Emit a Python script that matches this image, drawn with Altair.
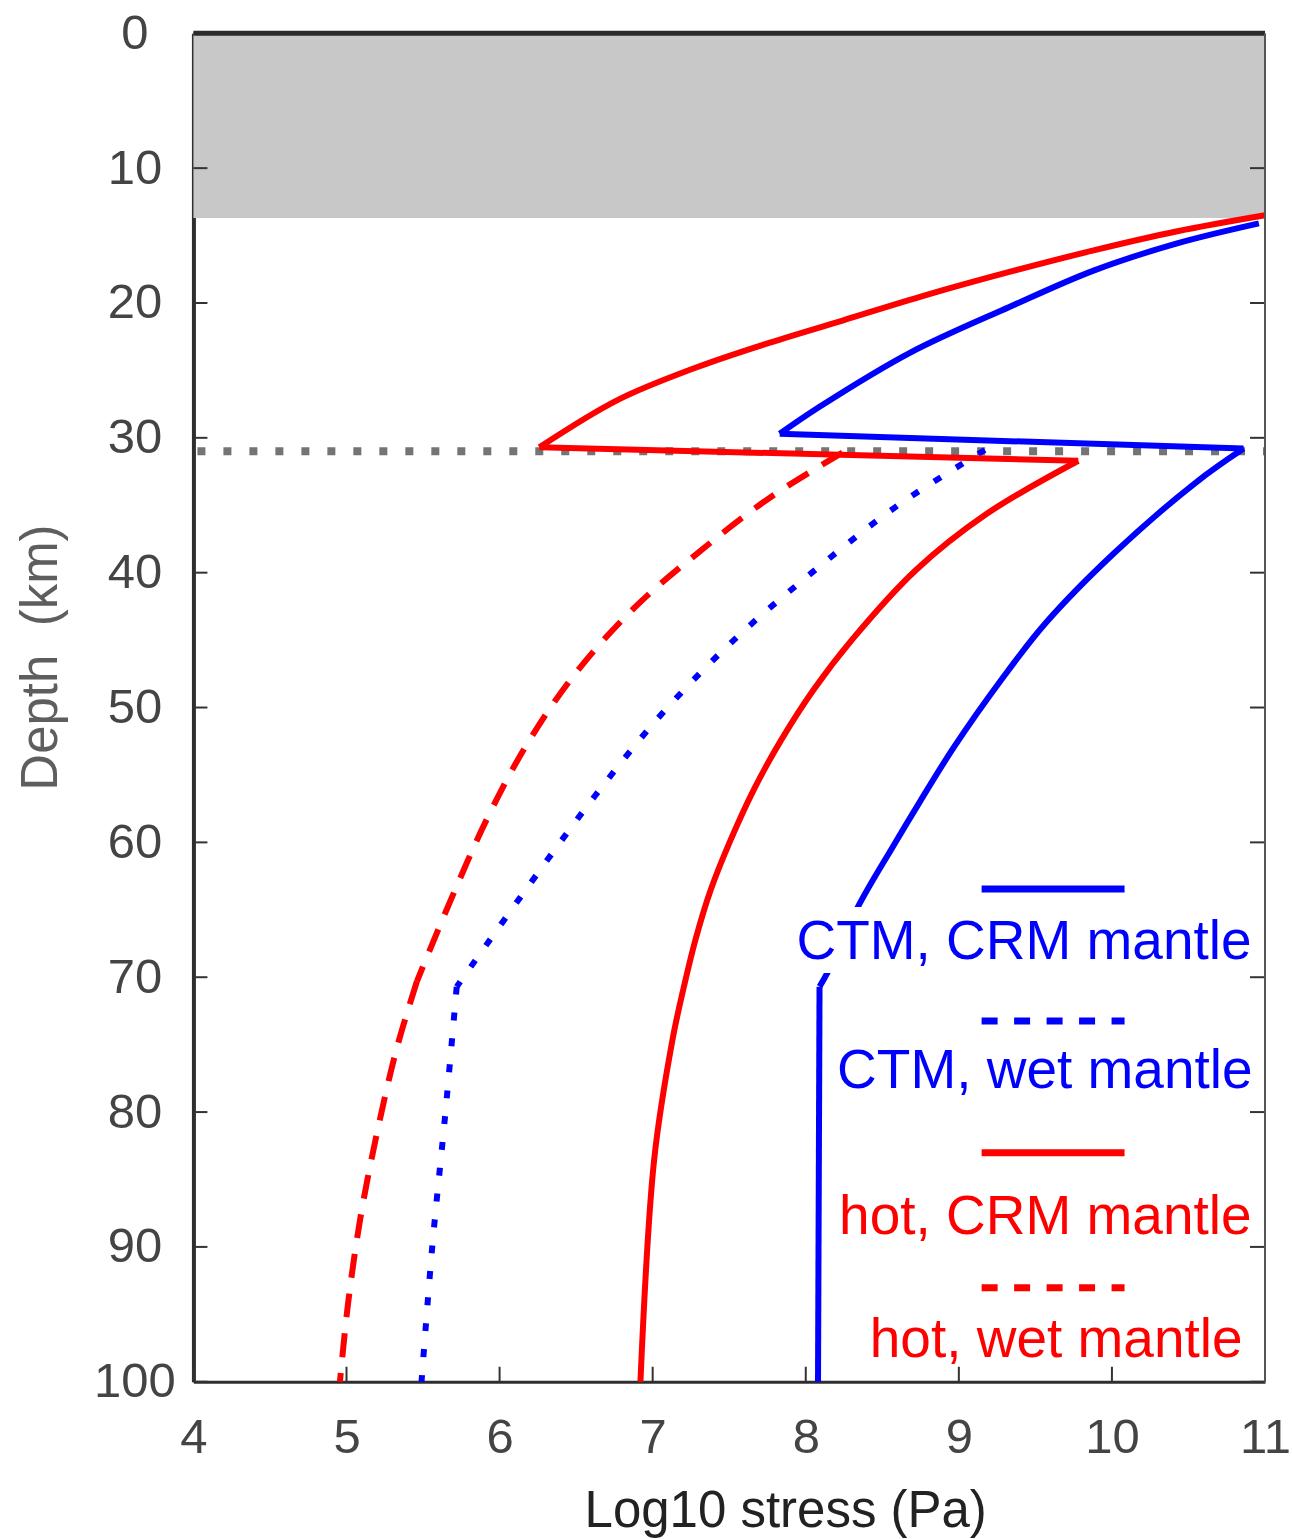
import altair as alt
import pandas as pd

# ---------------- data ----------------
x_ticks = [4, 5, 6, 7, 8, 9, 10, 11]
y_ticks = [0, 10, 20, 30, 40, 50, 60, 70, 80, 90, 100]

crust_top = [0]
crust_bottom = [13.7]
moho_depth = [31]

ctm_crm_stress = [10.96, 10.42, 9.88, 9.33, 8.68, 8.09, 7.83,
                  10.86, 10.55, 10.01, 9.57, 9.28, 8.97, 8.75, 8.57, 8.34,
                  8.14, 8.09, 8.08]
ctm_crm_depth = [14.1, 15.6, 17.6, 20.3, 23.7, 27.7, 29.7,
                 30.8, 33.3, 38.6, 43.7, 47.9, 52.9, 56.9, 60.3, 64.8,
                 69.7, 70.7, 100]
ctm_crm_breaks = [6, 7, 17]

ctm_wet_stress = [9.17, 8.59, 8.04, 7.53, 7.05, 6.62, 6.21, 5.72,
                  5.643, 5.56, 5.49]
ctm_wet_depth = [30.9, 35.1, 40.0, 45.0, 50.6, 56.6, 62.9, 70.7,
                 80.4, 90.0, 100]
ctm_wet_breaks = [7]

hot_crm_stress = [11.0, 10.42, 9.88, 9.33, 8.79, 8.24, 7.72, 7.28, 6.77, 6.26,
                  9.78, 9.18, 8.72, 8.30, 8.05, 7.84, 7.66, 7.51, 7.38, 7.28,
                  7.20, 7.13, 7.01, 6.92]
hot_crm_depth = [13.5, 14.7, 16.1, 17.7, 19.4, 21.3, 23.1, 24.8, 27.2, 30.7,
                 31.7, 35.65, 39.8, 45.0, 48.7, 52.4, 56.1, 59.8, 63.5, 67.2,
                 70.9, 74.6, 83.5, 100]
hot_crm_breaks = [9, 10]

hot_wet_stress = [8.24, 7.77, 7.31, 6.89, 6.50, 6.18, 5.92, 5.68, 5.46,
                  5.33, 5.20, 5.09, 5.01, 4.957]
hot_wet_depth = [31.1, 34.4, 38.4, 42.5, 47.4, 52.7, 58.2, 64.3, 70.3,
                 75.2, 81.5, 87.9, 94.2, 100]
hot_wet_breaks = [8]

legend_labels = ["CTM, CRM mantle", "CTM, wet mantle", "hot, CRM mantle", "hot, wet mantle"]

# ---------------- layout ----------------
W, H = 1072, 1349
BLUE, RED = "#0000ff", "#ff0000"
FONT = "Liberation Sans"

xs = alt.Scale(domain=[4, 11], nice=False, zero=False)
ys = alt.Scale(domain=[0, 100], nice=False, zero=False, reverse=True)

xax = alt.Axis(values=x_ticks, ticks=False, tickSize=0, grid=False,
               domain=True, domainWidth=3, domainColor="#2e2e2e",
               labelFontSize=49, labelColor="#444444", labelFont=FONT,
               labelPadding=32, labelFlush=False,
               title="Log10 stress (Pa)", titleFontSize=51, titleFont=FONT,
               titleFontWeight="normal", titleColor="#222222",
               titleX=592, titleY=145, titleAlign="center",
               titleBaseline="alphabetic", titleAnchor="start")
yax = alt.Axis(values=y_ticks, ticks=False, tickSize=0, grid=False,
               domain=True, domainWidth=4, domainColor="#2e2e2e",
               labelFontSize=49, labelColor="#444444", labelFont=FONT,
               labelAlign="center", labelBaseline="middle", labelPadding=59,
               labelFlush=False,
               title="Depth\u00a0\u00a0(km)", titleFontSize=51, titleFont=FONT,
               titleFontWeight="normal", titleColor="#5e5e5e",
               titleAngle=270, titleX=-137, titleY=624, titleAlign="center",
               titleBaseline="alphabetic", titleAnchor="start")

X = lambda: alt.X("stress:Q", scale=xs, axis=xax)
Y = lambda: alt.Y("depth:Q", scale=ys, axis=yax)


def series(s, d, breaks):
    # split the profile into smooth pieces at its kinks (pieces share end points)
    cuts = [0] + list(breaks) + [len(s) - 1]
    rows = []
    for k in range(len(cuts) - 1):
        for j in range(cuts[k], cuts[k + 1] + 1):
            rows.append({"stress": s[j], "depth": d[j], "i": j, "seg": k})
    return pd.DataFrame(rows)


one = pd.DataFrame({"k": [0]})

band = alt.Chart(pd.DataFrame({"depth": crust_top, "depth2": crust_bottom})).mark_rect(
    color="#c8c8c8").encode(y=Y(), y2="depth2:Q", x=alt.value(0), x2=alt.value(W))

moho = alt.Chart(pd.DataFrame({"depth": moho_depth})).mark_rule(
    color="#747474", strokeWidth=8, strokeDash=[8, 18]).encode(
    y=Y(), x=alt.value(4), x2=alt.value(W))


def line(s, d, breaks, color, dash=None):
    kw = dict(color=color, strokeWidth=6, strokeJoin="round", strokeCap="butt",
              interpolate="catmull-rom")
    if dash:
        kw["strokeDash"] = dash
    return alt.Chart(series(s, d, breaks)).mark_line(**kw).encode(
        x=X(), y=Y(), order="i:Q", detail="seg:N")


l_ctm_crm = line(ctm_crm_stress, ctm_crm_depth, ctm_crm_breaks, BLUE)
l_ctm_wet = line(ctm_wet_stress, ctm_wet_depth, ctm_wet_breaks, BLUE, [8, 18])
l_hot_crm = line(hot_crm_stress, hot_crm_depth, hot_crm_breaks, RED)
l_hot_wet = line(hot_wet_stress, hot_wet_depth, hot_wet_breaks, RED, [24, 16])

# frame and inward ticks
top_rule = alt.Chart(one).mark_rule(color="#2b2b2b", strokeWidth=5).encode(
    x=alt.value(0), x2=alt.value(W), y=alt.value(0))
right_rule = alt.Chart(one).mark_rule(color="#555555", strokeWidth=2).encode(
    x=alt.value(W), y=alt.value(0), y2=alt.value(H))
yt = pd.DataFrame({"depth": y_ticks})
xt = pd.DataFrame({"stress": x_ticks})
left_ticks = alt.Chart(yt).mark_rule(color="#333333", strokeWidth=2).encode(
    y=Y(), x=alt.value(0), x2=alt.value(14))
right_ticks = alt.Chart(yt).mark_rule(color="#333333", strokeWidth=2).encode(
    y=Y(), x=alt.value(W - 15), x2=alt.value(W))
bottom_ticks = alt.Chart(xt).mark_rule(color="#333333", strokeWidth=2).encode(
    x=X(), y=alt.value(H - 15), y2=alt.value(H))

# legend (drawn manually: sample line above right-aligned label)
legend_layers = []
legend_spec = [
    (legend_labels[0], BLUE, None, 856, 1058.5, 926, 598),
    (legend_labels[1], BLUE, [16, 16.5], 988, 1059.5, 1055, 638),
    (legend_labels[2], RED, None, 1120, 1058.5, 1201, 638),
    (legend_labels[3], RED, [16, 16.5], 1255, 1049.5, 1324, 668),
]
for label, col, dash, ly, tx, ty, tleft in legend_spec:
    bg = alt.Chart(one).mark_rect(color="white").encode(
        x=alt.value(tleft), x2=alt.value(tx + 6),
        y=alt.value(ty - 52), y2=alt.value(ty + 14))
    kw = dict(color=col, strokeWidth=7)
    if dash:
        kw["strokeDash"] = dash
    sample = alt.Chart(one).mark_rule(**kw).encode(
        x=alt.value(788.5), x2=alt.value(931.5), y=alt.value(ly))
    txt = alt.Chart(pd.DataFrame({"label": [label]})).mark_text(
        align="right", baseline="alphabetic", fontSize=55, font=FONT, color=col
    ).encode(x=alt.value(tx), y=alt.value(ty), text="label:N")
    legend_layers += [bg, sample, txt]

chart = alt.layer(
    band, moho, l_ctm_crm, l_ctm_wet, l_hot_crm, l_hot_wet,
    *legend_layers,
    left_ticks, right_ticks, bottom_ticks, top_rule, right_rule,
).properties(
    width=W, height=H,
    autosize=alt.AutoSizeParams(type="none"),
    padding={"left": 193.5, "top": 33, "right": 27, "bottom": 157},
    background="white",
).configure_view(stroke=None)

chart.save("out.html", embed_options={"renderer": "svg", "actions": False})
